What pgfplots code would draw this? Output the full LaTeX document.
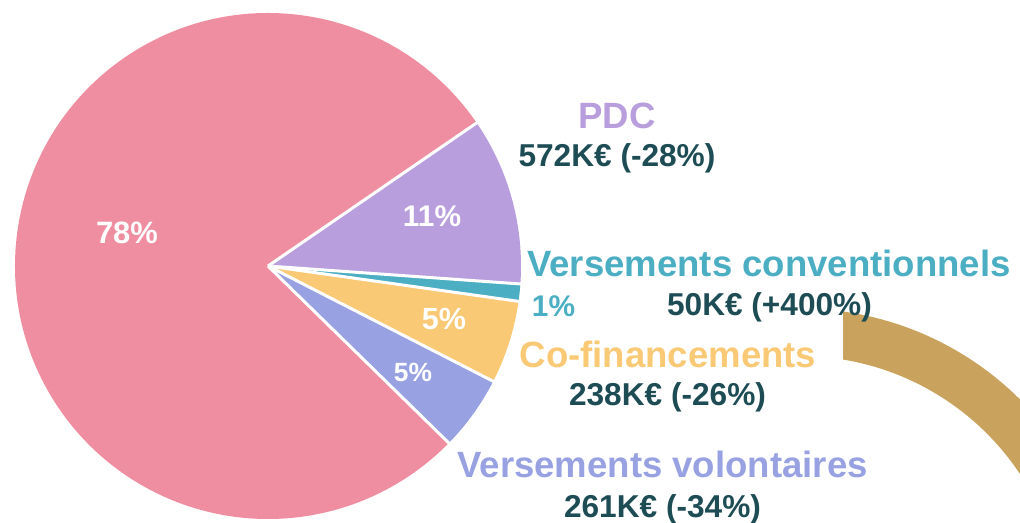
\documentclass[border=0pt]{standalone}
\usepackage{pgfplots}
\pgfplotsset{compat=1.18}
\usepackage{pgfplotstable}
\usepackage{fontspec}
\setmainfont{Liberation Sans}
\definecolor{slice0}{HTML}{EF8EA1}
\definecolor{slice1}{HTML}{98A2E2}
\definecolor{slice2}{HTML}{F9C975}
\definecolor{slice3}{HTML}{4BAEC2}
\definecolor{slice4}{HTML}{B89EDD}
\definecolor{darktxt}{HTML}{1D4C54}
\definecolor{arcbrown}{HTML}{C9A35E}

\pgfplotstableread{
label pct
Autres 78.1
Volontaires 4.8
Cofinancements 5.3
Conventionnels 1.1
PDC 10.7
}\piedata

\begin{document}
\begin{tikzpicture}
\useasboundingbox (0,0) rectangle (10.2,5.22);
\xdef\angcur{34.45}
\foreach \i in {0,...,4}{%
  \pgfplotstablegetelem{\i}{pct}\of\piedata
  \pgfmathsetmacro\tmpend{\angcur+3.6*\pgfplotsretval}%
  \expandafter\xdef\csname sa\i\endcsname{\angcur}%
  \expandafter\xdef\csname ea\i\endcsname{\tmpend}%
  \xdef\angcur{\tmpend}%
}
\begin{axis}[at={(0,0)}, anchor=south west, scale only axis,
  width=10.2cm, height=5.22cm, xmin=0, xmax=1020, ymin=0, ymax=522,
  y dir=reverse, hide axis, clip=true]
\pgfplotsinvokeforeach{0,...,4}{%
  \fill[slice#1] (axis cs:268,266) -- ++(\csname sa#1\endcsname:2.53cm)
    arc[start angle=\csname sa#1\endcsname, end angle=\csname ea#1\endcsname, radius=2.53cm] -- cycle;
}
\pgfplotsinvokeforeach{0,...,4}{%
  \draw[white, line width=0.03cm] (axis cs:268,266) -- ++(\csname sa#1\endcsname:2.56cm);
}
\begin{scope}
\clip (axis cs:843,0) rectangle (axis cs:1020,522);
\draw[arcbrown, line width=0.475cm] (axis cs:800,620) ++(86:2.8775cm) arc[start angle=86, end angle=20, radius=2.8775cm];
\end{scope}

% percentages
\node[anchor=base, text=white, font=\fontsize{8.8pt}{10pt}\selectfont\bfseries] at (axis cs:127,243) {78\%};
\node[anchor=base, text=white, font=\fontsize{8.5pt}{10pt}\selectfont\bfseries] at (axis cs:432,226) {11\%};
\node[anchor=base, text=white, font=\fontsize{8.7pt}{10pt}\selectfont\bfseries] at (axis cs:444,329) {5\%};
\node[anchor=base, text=white, font=\fontsize{7.5pt}{9pt}\selectfont\bfseries] at (axis cs:413,381) {5\%};
\node[anchor=base, text=slice3, font=\fontsize{8.5pt}{10pt}\selectfont\bfseries] at (axis cs:553.5,316) {1\%};

% names
\node[anchor=base, text=slice4, font=\fontsize{10.4pt}{12pt}\selectfont\bfseries] at (axis cs:617,128) {PDC};
\node[anchor=base, text=darktxt, font=\fontsize{9pt}{11pt}\selectfont\bfseries] at (axis cs:617,166) {572K€ (-28\%)};
\node[anchor=base, text=slice3, font=\fontsize{10.4pt}{12pt}\selectfont\bfseries] at (axis cs:769,276) {Versements conventionnels};
\node[anchor=base, text=darktxt, font=\fontsize{9pt}{11pt}\selectfont\bfseries] at (axis cs:769.5,315) {50K€ (+400\%)};
\node[anchor=base, text=slice2, font=\fontsize{10.4pt}{12pt}\selectfont\bfseries] at (axis cs:668,367) {Co-financements};
\node[anchor=base, text=darktxt, font=\fontsize{9pt}{11pt}\selectfont\bfseries] at (axis cs:667.5,405) {238K€ (-26\%)};
\node[anchor=base, text=slice1, font=\fontsize{10.4pt}{12pt}\selectfont\bfseries] at (axis cs:662.5,477) {Versements volontaires};
\node[anchor=base, text=darktxt, font=\fontsize{9pt}{11pt}\selectfont\bfseries] at (axis cs:662.5,517) {261K€ (-34\%)};
\end{axis}
\end{tikzpicture}
\end{document}
